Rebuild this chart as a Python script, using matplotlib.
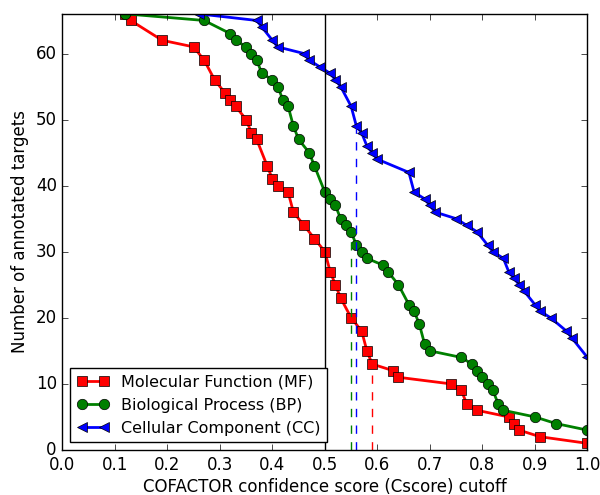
import numpy as np
import matplotlib
matplotlib.use('Agg')
import matplotlib.pyplot as plt

plt.style.use('classic')

# Molecular Function (MF)
mf_x = [0.12, 0.13, 0.19, 0.25, 0.27, 0.29, 0.31, 0.32, 0.33, 0.35, 0.36, 0.37, 0.39, 0.40,
        0.41, 0.43, 0.44, 0.46, 0.48, 0.50, 0.51, 0.52, 0.53, 0.55, 0.57, 0.58, 0.59, 0.63,
        0.64, 0.74, 0.76, 0.77, 0.79, 0.85, 0.86, 0.87, 0.91, 1.00]
mf_y = [66, 65, 62, 61, 59, 56, 54, 53, 52, 50, 48, 47, 43, 41, 40, 39, 36, 34, 32, 30,
        27, 25, 23, 20, 18, 15, 13, 12, 11, 10, 9, 7, 6, 5, 4, 3, 2, 1]

# Biological Process (BP)
bp_x = [0.12, 0.27, 0.32, 0.33, 0.35, 0.36, 0.37, 0.38, 0.40, 0.41, 0.42, 0.43, 0.44, 0.45,
        0.47, 0.48, 0.50, 0.51, 0.52, 0.53, 0.54, 0.55, 0.56, 0.57, 0.58, 0.61, 0.62, 0.64,
        0.66, 0.67, 0.68, 0.69, 0.70, 0.76, 0.78, 0.79, 0.80, 0.81, 0.82, 0.83, 0.84, 0.90,
        0.94, 1.00]
bp_y = [66, 65, 63, 62, 61, 60, 59, 57, 56, 55, 53, 52, 49, 47, 45, 43, 39, 38, 37, 35,
        34, 33, 31, 30, 29, 28, 27, 25, 22, 21, 19, 16, 15, 14, 13, 12, 11, 10, 9, 7, 6, 5,
        4, 3]

# Cellular Component (CC)
cc_x = [0.26, 0.37, 0.38, 0.40, 0.41, 0.46, 0.47, 0.49, 0.51, 0.52, 0.53, 0.55, 0.56, 0.57,
        0.58, 0.59, 0.60, 0.66, 0.67, 0.69, 0.70, 0.71, 0.75, 0.77, 0.79, 0.81, 0.82, 0.84,
        0.85, 0.86, 0.87, 0.88, 0.90, 0.91, 0.93, 0.96, 0.97, 1.00]
cc_y = [66, 65, 64, 62, 61, 60, 59, 58, 57, 56, 55, 52, 49, 48, 46, 45, 44, 42, 39, 38,
        37, 36, 35, 34, 33, 31, 30, 29, 27, 26, 25, 24, 22, 21, 20, 18, 17, 14]

# cutoffs marked with dashed lines (x, count at cutoff)
cut_x = [0.59, 0.55, 0.56]
cut_y = [13, 33, 49]
colors = ['r', 'g', 'b']

fig = plt.figure(figsize=(6, 4.95), dpi=100)
ax = fig.add_axes([0.104, 0.091, 0.875, 0.881])

ax.plot(mf_x, mf_y, 'rs-', lw=2, ms=7, mew=0.5, label='Molecular Function (MF)')
ax.plot(bp_x, bp_y, 'go-', lw=2, ms=7.5, mew=0.5, label='Biological Process (BP)')
ax.plot(cc_x, cc_y, 'b<-', lw=2, ms=7, mew=0.5, label='Cellular Component (CC)')

ax.axvline(0.5, color='k', lw=1)
for cx, cy, c in zip(cut_x, cut_y, colors):
    ax.vlines(cx, 0, cy, colors=c, linestyles='dashed', lw=1)

ax.set_xlim(0, 1)
ax.set_ylim(0, 66)
ax.set_xticks(np.arange(0, 1.01, 0.1))
ax.set_yticks(np.arange(0, 61, 10))
ax.set_xlabel('COFACTOR confidence score (Cscore) cutoff', size=12, labelpad=3)
ax.set_ylabel('Number of annotated targets', size=12)
ax.tick_params(labelsize=12)
ax.legend(loc='lower left', fontsize=11.5, numpoints=2)

fig.savefig('out.png', dpi=100, facecolor='w')
